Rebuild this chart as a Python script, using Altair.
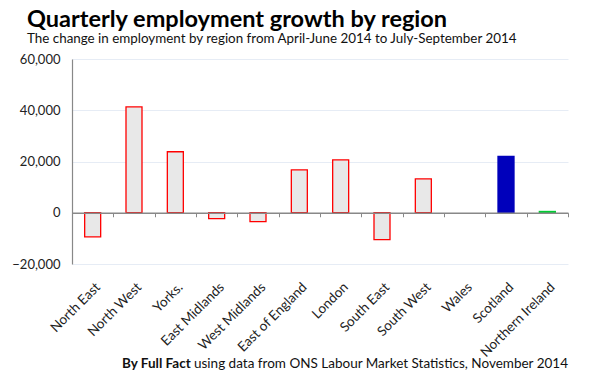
import altair as alt
import pandas as pd

regions = ["North East", "North West", "Yorks.", "East Midlands", "West Midlands",
           "East of England", "London", "South East", "South West", "Wales",
           "Scotland", "Northern Ireland"]
change = [-9400, 41300, 23800, -2300, -3500, 16750, 20650, -10500, 13250, 0, 21950, 500]
fills = ["#e8e8e8"] * 9 + ["#e8e8e8", "#0000bb", "#00cc33"]
strokes = ["#ff0000"] * 9 + ["transparent", "#0000bb", "#00cc33"]

title = "Quarterly employment growth by region"
subtitle = "The change in employment by region from April-June 2014 to July-September 2014"
footer_bold = "By Full Fact"
footer_rest = "using data from ONS Labour Market Statistics, November 2014"

FONT = "Lato"

df = pd.DataFrame({"region": regions, "change": change, "fill": fills, "stroke": strokes})

bars = alt.Chart(df).mark_bar(width=16, strokeWidth=1.3).encode(
    x=alt.X("region:N", sort=regions,
            scale=alt.Scale(paddingInner=0, paddingOuter=0),
            axis=alt.Axis(title=None, labelAngle=-45, offset=-51.25, labelPadding=63,
                          tickBand="extent", tickSize=4, tickColor="#888888",
                          domainColor="#888888", domainWidth=1.5, labelFont=FONT,
                          labelFontSize=13.5, labelColor="#222222", zindex=1)),
    y=alt.Y("change:Q", scale=alt.Scale(domain=[-20000, 60000], nice=False),
            axis=alt.Axis(title=None, values=[-20000, 0, 20000, 40000, 60000],
                          format=",d", ticks=False, labelPadding=12,
                          domainColor="#888888", domainWidth=1.2,
                          gridColor="#e6ecf5", gridWidth=1, labelFont=FONT,
                          labelFontSize=13, labelColor="#222222")),
    fill=alt.Fill("fill:N", scale=None),
    stroke=alt.Stroke("stroke:N", scale=None),
)

f1 = alt.Chart(pd.DataFrame({"t": [footer_bold]})).mark_text(
    align="left", baseline="alphabetic", font=FONT, fontSize=13.5, fontWeight="bold", color="#111111"
).encode(text="t:N", x=alt.value(50), y=alt.value(309))

f2 = alt.Chart(pd.DataFrame({"t": [footer_rest]})).mark_text(
    align="left", baseline="alphabetic", font=FONT, fontSize=13.5, color="#111111"
).encode(text="t:N", x=alt.value(122), y=alt.value(309))

chart = alt.layer(bars, f1, f2).properties(
    width=496, height=205,
    autosize=alt.AutoSizeParams(type="none"),
    padding={"left": 64, "top": 51, "right": 24, "bottom": 108},
    title=alt.TitleParams(text=title, subtitle=subtitle, anchor="start", frame="group",
                          dx=-45, font=FONT, fontSize=23.5, fontWeight="bold", color="#000000",
                          subtitleFont=FONT, subtitleFontSize=13.4, subtitleColor="#111111",
                          subtitlePadding=0, offset=8),
).configure_view(stroke=None)

chart.save("out.html", embed_options={"renderer": "svg", "actions": False})
